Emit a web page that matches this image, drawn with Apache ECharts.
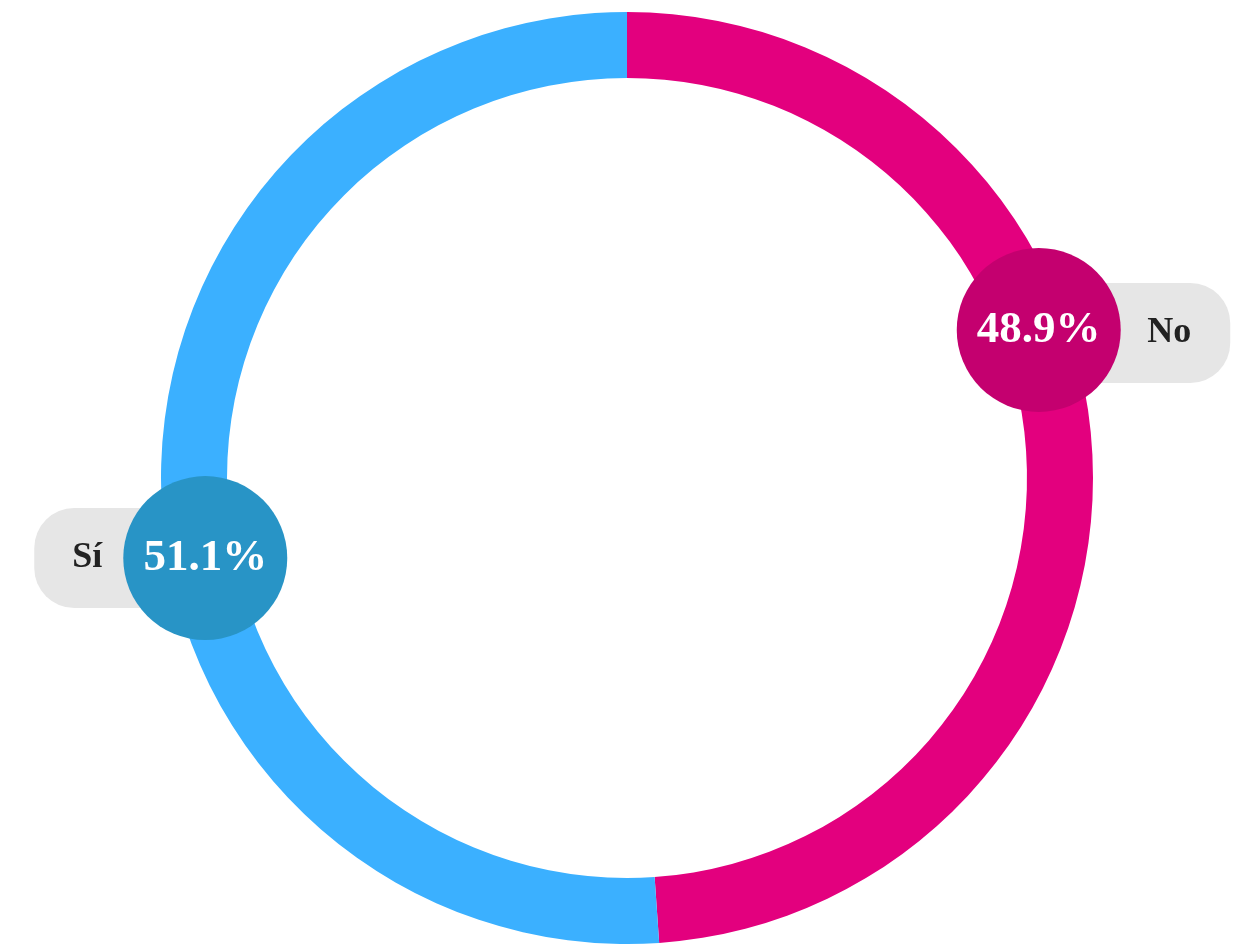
<!DOCTYPE html>
<html><head><meta charset="utf-8">
<script src="https://cdn.jsdelivr.net/npm/echarts@6/dist/echarts.min.js"></script>
<style>html,body{margin:0;padding:0;background:#fff}#c{width:1238px;height:944px}</style>
</head><body><div id="c"></div>
<script>
const categories = ['No', 'Sí'];
const values = [48.9, 51.1];
const ringColors = ['#E3007E', '#3BB0FF'];
const badgeColors = ['#C4006F', '#2894C6'];

const FONT = '"Liberation Serif", "DejaVu Serif", serif';
const data = categories.map((c, i) => ({ name: c, value: values[i] }));

// label offsets relative to the inside label anchor
const pillOffsets = [[71, -130], [-73, 65]];
const badgeOffsets = [[-24, -133], [14, 65]];

const chart = echarts.init(document.getElementById('c'), null, { renderer: 'canvas' });
const common = {
  type: 'pie',
  center: [627, 478],
  radius: [400, 466],
  startAngle: 90,
  clockwise: true,
  avoidLabelOverlap: false,
  labelLine: { show: false },
  emphasis: { disabled: true },
  animation: false
};
chart.setOption({
  backgroundColor: '#fff',
  series: [
    Object.assign({}, common, {
      z: 2,
      data: data.map((d, i) => Object.assign({}, d, { itemStyle: { color: ringColors[i], borderWidth: 0 } })),
      label: {
        show: true,
        position: 'inside',
        formatter: p => p.dataIndex === 0 ? '{r|' + p.name + '}' : '{l|' + p.name + '}',
        rich: {
          r: { fontFamily: FONT, fontWeight: 'bold', fontSize: 36, color: '#222', backgroundColor: '#E6E6E6',
               borderRadius: 40, padding: [32, 39, 32, 110], lineHeight: 36 },
          l: { fontFamily: FONT, fontWeight: 'bold', fontSize: 36, color: '#222', backgroundColor: '#E6E6E6',
               borderRadius: 40, padding: [32, 100, 32, 38], lineHeight: 36 }
        }
      },
      labelLayout: p => ({ dx: pillOffsets[p.dataIndex][0], dy: pillOffsets[p.dataIndex][1] })
    }),
    Object.assign({}, common, {
      z: 3,
      silent: true,
      data: data.map((d, i) => Object.assign({}, d, { itemStyle: { color: 'rgba(0,0,0,0)', borderWidth: 0 } })),
      label: {
        show: true,
        position: 'inside',
        formatter: p => '{b' + p.dataIndex + '|' + p.value.toFixed(1) + '%}',
        rich: {
          b0: { fontFamily: FONT, fontWeight: 'bold', fontSize: 45, color: '#fff', backgroundColor: badgeColors[0],
                width: 164, height: 164, lineHeight: 164, borderRadius: 82, align: 'center' },
          b1: { fontFamily: FONT, fontWeight: 'bold', fontSize: 45, color: '#fff', backgroundColor: badgeColors[1],
                width: 164, height: 164, lineHeight: 164, borderRadius: 82, align: 'center' }
        }
      },
      labelLayout: p => ({ dx: badgeOffsets[p.dataIndex][0], dy: badgeOffsets[p.dataIndex][1] })
    })
  ]
});
</script></body></html>
